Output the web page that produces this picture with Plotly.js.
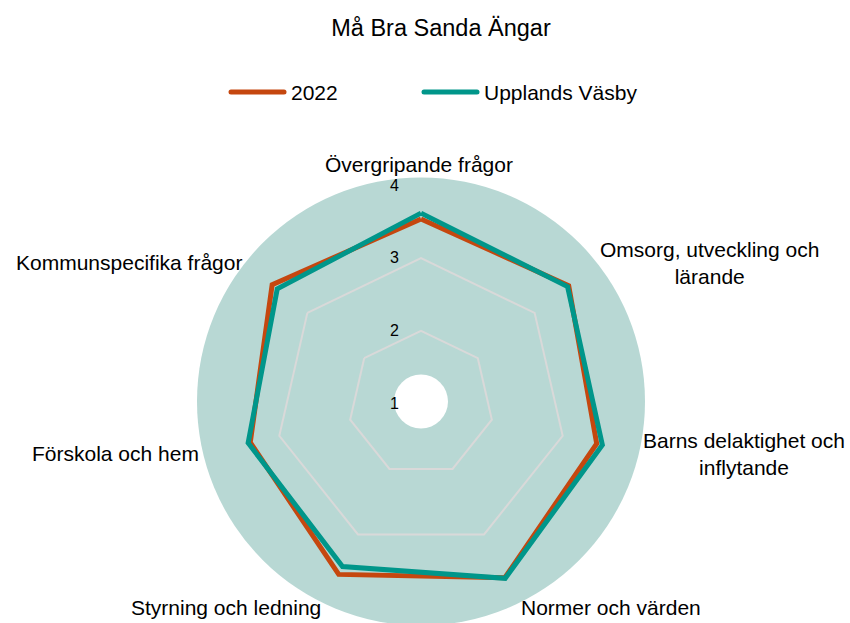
<!DOCTYPE html>
<html>
<head>
<meta charset="utf-8">
<script src="https://cdn.plot.ly/plotly-3.0.1.min.js"></script>
<style>html,body{margin:0;padding:0;background:#fff;}#chart{width:850px;height:623px;}</style>
</head>
<body>
<div id="chart"></div>
<script>
const categories = [
  "Övergripande frågor",
  "Omsorg, utveckling och<br>lärande",
  "Barns delaktighet och<br>inflytande",
  "Normer och värden",
  "Styrning och ledning",
  "Förskola och hem",
  "Kommunspecifika frågor"
];
const values2022 = [3.54, 3.60, 3.48, 3.66, 3.61, 3.41, 3.62];
const valuesVasby = [3.62, 3.58, 3.56, 3.67, 3.49, 3.44, 3.53];
const radialTicks = [1, 2, 3, 4];
const seriesNames = ["2022", "Upplands Väsby"];
const seriesColors = ["#C5470F", "#00968A"];

const W = 850, H = 623;
const cx = 421, cy = 403.5, R = 218;
const bgCx = 421, bgCy = 401.5, bgR = 224, holeR = 27;

function close(a){ return a.concat([a[0]]); }
const px = x => x / W;
const py = y => 1 - y / H;

const traces = [values2022, valuesVasby].map((v, i) => ({
  type:'scatterpolar', r: close(v), theta: close(categories), name: seriesNames[i],
  mode:'lines', line:{color: seriesColors[i], width:5}, hoverinfo:'skip', showlegend:false
}));

const font = "Liberation Sans, Arial, sans-serif";

// category labels placed just outside the outer polygon
const annotations = [];
const pad = 8;
categories.forEach((c, i) => {
  const a = i * 2 * Math.PI / categories.length;
  const dx = Math.sin(a), dy = -Math.cos(a);
  const x = cx + (R + pad) * dx, y = cy + (R + pad) * dy;
  let xanchor = 'center', yanchor = 'middle', xshift = 0;
  if (dx > 0.3) xanchor = 'left';
  else if (dx < -0.3) xanchor = 'right';
  else { yanchor = 'bottom'; xshift = -2; }
  annotations.push({text: c, x: px(x), y: py(y), xref:'paper', yref:'paper',
    xanchor, yanchor, xshift, align:'center', showarrow:false,
    font:{size:21, family:font, color:'#000'}});
});

// legend (drawn manually for long line symbols)
const legendY = 92;
const legendItems = [{x0:231, text:289}, {x0:424, text:482}];
const shapes = [
  {type:'circle', xref:'paper', yref:'paper', layer:'below',
   x0:px(bgCx-bgR), x1:px(bgCx+bgR), y0:py(bgCy+bgR), y1:py(bgCy-bgR),
   fillcolor:'#B8D8D4', line:{width:0}},
  {type:'circle', xref:'paper', yref:'paper', layer:'below',
   x0:px(bgCx-holeR), x1:px(bgCx+holeR), y0:py(bgCy+holeR), y1:py(bgCy-holeR),
   fillcolor:'#ffffff', line:{width:0}}
];
seriesNames.forEach((n, i) => {
  const it = legendItems[i];
  shapes.push({type:'line', xref:'paper', yref:'paper', x0:px(it.x0), x1:px(it.x0+53),
    y0:py(legendY), y1:py(legendY), line:{color:seriesColors[i], width:5}});
  annotations.push({text:n, x:px(it.text), y:py(legendY), xref:'paper', yref:'paper',
    xanchor:'left', yanchor:'middle', showarrow:false,
    font:{size:21, family:font, color:'#000'}});
});

const layout = {
  width: W, height: H,
  margin:{l:0,r:0,t:0,b:0},
  paper_bgcolor:'#ffffff',
  font:{family:font, color:'#000000'},
  title:{text:'Må Bra Sanda Ängar', font:{size:23.5, family:font, color:'#000'},
         x:px(441), xanchor:'center', xref:'paper', y:py(28), yanchor:'middle', yref:'paper'},
  showlegend:false,
  shapes, annotations,
  polar:{
    domain:{x:[px(cx-R), px(cx+R)], y:[py(cy+R), py(cy-R)]},
    bgcolor:'rgba(0,0,0,0)',
    gridshape:'linear',
    angularaxis:{rotation:90, direction:'clockwise', showgrid:false, showline:false,
                 ticks:'', showticklabels:false},
    radialaxis:{range:[1,4], tickvals:radialTicks, ticktext:radialTicks.map(String),
                angle:90, side:'counterclockwise', showline:false, ticks:'outside', ticklen:16,
                tickcolor:'rgba(0,0,0,0)', tickangle:90,
                gridcolor:'#D9D9D9', gridwidth:2, tickfont:{size:16, family:font, color:'#000'}}
  }
};

Plotly.newPlot('chart', traces, layout, {displayModeBar:false, staticPlot:true}).then(() => {
  document.querySelectorAll('.shapelayer path').forEach(p => p.style.strokeLinecap = 'round');
});
</script>
</body>
</html>
